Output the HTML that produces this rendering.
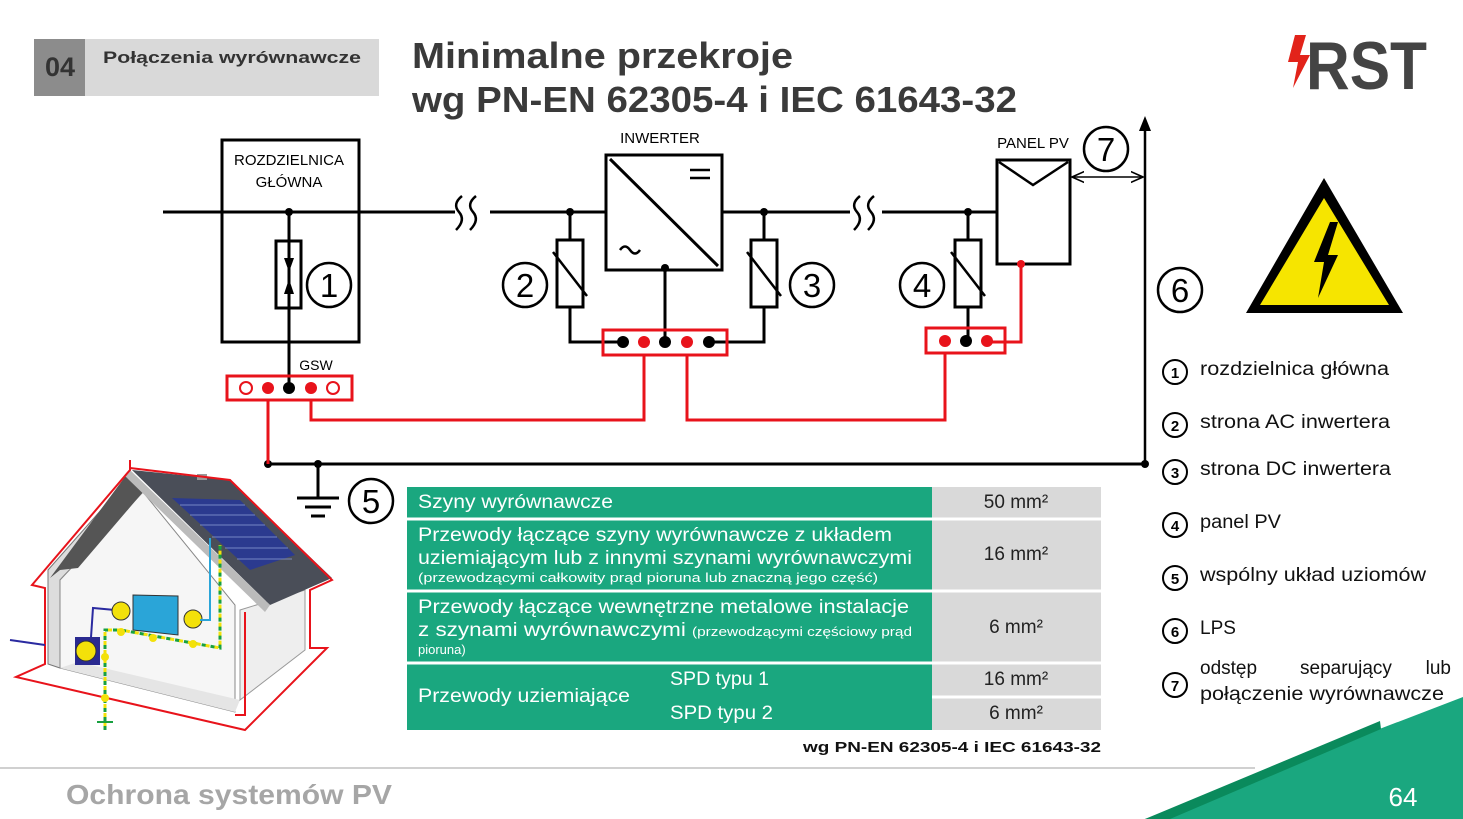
<!DOCTYPE html>
<html><head><meta charset="utf-8"><style>
html,body{margin:0;padding:0;background:#fff}
svg{display:block}
text{font-family:"Liberation Sans",sans-serif}
</style></head><body>
<svg width="1463" height="819" viewBox="0 0 1463 819" xmlns="http://www.w3.org/2000/svg">
<defs>
<marker id="ao" viewBox="0 0 10 10" refX="9" refY="5" markerWidth="9" markerHeight="9" orient="auto-start-reverse"><path d="M0,1 L9,5 L0,9" fill="none" stroke="#000" stroke-width="1.2"/></marker>
</defs>
<rect x="34" y="39" width="345" height="57" fill="#d9d9d9"/>
<rect x="34" y="39" width="51" height="57" fill="#8c8c8c"/>
<text x="60" y="76" font-size="27" font-weight="bold" fill="#333" text-anchor="middle">04</text>
<text x="103" y="63" font-size="17" font-weight="bold" fill="#333" textLength="258" lengthAdjust="spacingAndGlyphs">Połączenia wyrównawcze</text>
<text x="412" y="68" font-size="36" font-weight="bold" fill="#3a3a3a" textLength="381" lengthAdjust="spacingAndGlyphs">Minimalne przekroje</text>
<text x="412" y="112" font-size="36" font-weight="bold" fill="#3a3a3a" textLength="605" lengthAdjust="spacingAndGlyphs">wg PN-EN 62305-4 i IEC 61643-32</text>
<polygon points="1295,35 1306,35 1300,55 1310,55 1293,88 1298,62 1288,62" fill="#e2231a"/>
<text x="1306" y="89" font-size="68" font-weight="bold" fill="#444" textLength="121" lengthAdjust="spacingAndGlyphs">RST</text>

<g stroke="#000" stroke-width="3" fill="none">
<line x1="163" y1="212" x2="455" y2="212"/>
<line x1="490" y1="212" x2="606" y2="212"/>
<line x1="722" y1="212" x2="850" y2="212"/>
<line x1="882" y1="212" x2="997" y2="212"/>
<path d="M462,196 q-10,8 -3,16 q7,8 -3,18 M476,196 q-10,8 -3,16 q7,8 -3,18" stroke-width="2.5"/>
<path d="M860,196 q-10,8 -3,16 q7,8 -3,18 M874,196 q-10,8 -3,16 q7,8 -3,18" stroke-width="2.5"/>
<rect x="222" y="140" width="137" height="202"/>
<rect x="606" y="155" width="116" height="115"/>
<line x1="610" y1="159" x2="718" y2="266"/>
<line x1="690" y1="170" x2="710" y2="170" stroke-width="2.5"/><line x1="690" y1="178" x2="710" y2="178" stroke-width="2.5"/>
<path d="M620,250 q5,-7 10,0 q5,7 10,0" stroke-width="2.5"/>
<rect x="997" y="160" width="73" height="104"/>
<polyline points="999,162 1033,185 1068,162" stroke-width="2.5"/>
<line x1="289" y1="212" x2="289" y2="388"/>
<rect x="276" y="241" width="25" height="67"/>
<polyline points="570,212 570,342 623,342"/>
<rect x="557" y="240" width="26" height="67" fill="#fff"/>
<line x1="553" y1="252" x2="587" y2="296" stroke-width="2.5"/>
<line x1="665" y1="268" x2="665" y2="342"/>
<polyline points="764,212 764,342 709,342"/>
<rect x="751" y="240" width="26" height="67" fill="#fff"/>
<line x1="747" y1="252" x2="781" y2="296" stroke-width="2.5"/>
<polyline points="968,212 968,340"/>
<rect x="955" y="240" width="26" height="67" fill="#fff"/>
<line x1="951" y1="252" x2="985" y2="296" stroke-width="2.5"/>
<line x1="268" y1="464" x2="1145" y2="464"/>
<line x1="318" y1="464" x2="318" y2="498"/>
<line x1="297" y1="498" x2="339" y2="498"/><line x1="305" y1="507" x2="331" y2="507"/><line x1="311" y1="516" x2="325" y2="516"/>
<line x1="1145" y1="464" x2="1145" y2="125" stroke-width="2.5"/>
<line x1="1072" y1="177" x2="1143" y2="177" stroke-width="1.5" marker-start="url(#ao)" marker-end="url(#ao)"/>
</g>
<polygon points="1145,116 1139,131 1151,131" fill="#000"/>
<polygon points="289,272 284,258 294,258" fill="#000"/>
<polygon points="289,279 284,294 294,294" fill="#000"/>
<circle cx="289" cy="212" r="4" fill="#000"/><circle cx="570" cy="212" r="4" fill="#000"/><circle cx="764" cy="212" r="4" fill="#000"/><circle cx="968" cy="212" r="4" fill="#000"/><circle cx="665" cy="268" r="4" fill="#000"/>
<circle cx="268" cy="464" r="4" fill="#000"/><circle cx="318" cy="464" r="4" fill="#000"/><circle cx="1145" cy="464" r="4" fill="#000"/>
<g stroke="#e8131b" stroke-width="3" fill="none">
<rect x="227" y="376" width="125" height="24"/>
<rect x="603" y="330" width="124" height="25"/>
<rect x="926" y="328" width="79" height="25"/>
<line x1="268" y1="400" x2="268" y2="464"/>
<polyline points="311,400 311,420 644,420 644,355"/>
<polyline points="687,355 687,420 945,420 945,353"/>
<polyline points="1021,264 1021,342 987,342"/>
<g stroke-width="2"><circle cx="246" cy="388" r="6"/><circle cx="333" cy="388" r="6"/></g>
</g>
<g fill="#e8131b"><circle cx="268" cy="388" r="6"/><circle cx="311" cy="388" r="6"/><circle cx="644" cy="342" r="6"/><circle cx="687" cy="342" r="6"/><circle cx="945" cy="341" r="6"/><circle cx="987" cy="341" r="6"/><circle cx="1021" cy="264" r="4"/></g>
<g fill="#000"><circle cx="289" cy="388" r="6"/><circle cx="623" cy="342" r="6"/><circle cx="665" cy="342" r="6"/><circle cx="709" cy="342" r="6"/><circle cx="966" cy="341" r="6"/></g>
<g font-size="15" fill="#000" text-anchor="middle">
<text x="289" y="165">ROZDZIELNICA</text><text x="289" y="187">GŁÓWNA</text>
<text x="660" y="143">INWERTER</text><text x="1033" y="148">PANEL PV</text>
<text x="316" y="370" font-size="14">GSW</text>
</g>
<g stroke="#000" stroke-width="2.5" fill="#fff">
<circle cx="329" cy="285" r="22"/><circle cx="525" cy="285" r="22"/><circle cx="812" cy="285" r="22"/><circle cx="922" cy="285" r="22"/><circle cx="371" cy="501" r="22"/><circle cx="1106" cy="149" r="22"/><circle cx="1180" cy="290" r="22"/>
</g>
<g font-size="33" text-anchor="middle" fill="#000">
<text x="329" y="297">1</text><text x="525" y="297">2</text><text x="812" y="297">3</text><text x="922" y="297">4</text><text x="371" y="513">5</text><text x="1106" y="161">7</text><text x="1180" y="302">6</text>
</g>
<polygon points="1324,178 1403,313 1246,313" fill="#000"/>
<polygon points="1324,198 1389,305 1260,305" fill="#f6e500"/>
<polygon points="1330,222 1314,262 1324,262 1318,298 1338,255 1328,255 1338,222" fill="#000"/>
<g stroke="#000" stroke-width="2" fill="#fff">
<circle cx="1175" cy="372" r="12"/><circle cx="1175" cy="425" r="12"/><circle cx="1175" cy="472" r="12"/><circle cx="1175" cy="525" r="12"/><circle cx="1175" cy="578" r="12"/><circle cx="1175" cy="631" r="12"/><circle cx="1175" cy="685" r="12"/>
</g>
<g font-size="15" font-weight="bold" text-anchor="middle" fill="#000">
<text x="1175" y="378">1</text><text x="1175" y="431">2</text><text x="1175" y="478">3</text><text x="1175" y="531">4</text><text x="1175" y="584">5</text><text x="1175" y="637">6</text><text x="1175" y="691">7</text>
</g>
<g font-size="19" fill="#111">
<text x="1200" y="375" textLength="189" lengthAdjust="spacingAndGlyphs">rozdzielnica główna</text>
<text x="1200" y="428" textLength="190" lengthAdjust="spacingAndGlyphs">strona AC inwertera</text>
<text x="1200" y="475" textLength="191" lengthAdjust="spacingAndGlyphs">strona DC inwertera</text>
<text x="1200" y="528" textLength="81" lengthAdjust="spacingAndGlyphs">panel PV</text>
<text x="1200" y="581" textLength="226" lengthAdjust="spacingAndGlyphs">wspólny układ uziomów</text>
<text x="1200" y="634">LPS</text>
<text x="1200" y="674">odstęp</text>
<text x="1346" y="674" text-anchor="middle">separujący</text>
<text x="1451" y="674" text-anchor="end">lub</text>
<text x="1200" y="700" textLength="244" lengthAdjust="spacingAndGlyphs">połączenie wyrównawcze</text>
</g>
<rect x="407" y="487" width="525" height="243" fill="#1aa77f"/>
<rect x="932" y="487" width="169" height="243" fill="#d9d9d9"/>
<g stroke="#fff" stroke-width="3">
<line x1="932" y1="519" x2="1101" y2="519"/><line x1="407" y1="591" x2="1101" y2="591"/><line x1="407" y1="663" x2="1101" y2="663"/><line x1="932" y1="697" x2="1101" y2="697"/><line x1="407" y1="519" x2="932" y2="519"/>
</g>
<g fill="#fff" font-size="19">
<text x="418" y="508" textLength="195" lengthAdjust="spacingAndGlyphs">Szyny wyrównawcze</text>
<text x="418" y="541" textLength="474" lengthAdjust="spacingAndGlyphs">Przewody łączące szyny wyrównawcze z układem</text>
<text x="418" y="564" textLength="494" lengthAdjust="spacingAndGlyphs">uziemiającym lub z innymi szynami wyrównawczymi</text>
<text x="418" y="582" font-size="13" textLength="460" lengthAdjust="spacingAndGlyphs">(przewodzącymi całkowity prąd pioruna lub znaczną jego część)</text>
<text x="418" y="613" textLength="491" lengthAdjust="spacingAndGlyphs">Przewody łączące wewnętrzne metalowe instalacje</text>
<text x="418" y="636" textLength="494" lengthAdjust="spacingAndGlyphs">z szynami wyrównawczymi <tspan font-size="13">(przewodzącymi częściowy prąd</tspan></text>
<text x="418" y="654" font-size="13">pioruna)</text>
<text x="418" y="702" textLength="212" lengthAdjust="spacingAndGlyphs">Przewody uziemiające</text>
<text x="670" y="685" textLength="99" lengthAdjust="spacingAndGlyphs">SPD typu 1</text>
<text x="670" y="719" textLength="103" lengthAdjust="spacingAndGlyphs">SPD typu 2</text>
</g>
<g fill="#222" font-size="19" text-anchor="middle">
<text x="1016" y="508">50 mm²</text><text x="1016" y="560">16 mm²</text><text x="1016" y="633">6 mm²</text><text x="1016" y="685">16 mm²</text><text x="1016" y="719">6 mm²</text>
</g>
<text x="803" y="752" font-size="15" font-weight="bold" fill="#111" textLength="298" lengthAdjust="spacingAndGlyphs">wg PN-EN 62305-4 i IEC 61643-32</text>
<g>
<polygon points="48,570 132,475 143,492 60,580 60,668 48,664" fill="#ddd" stroke="#777"/>
<polygon points="60,580 143,492 235,605 235,712 60,668" fill="#f6f6f6" stroke="#888"/>
<polygon points="50,578 130,470 143,492 78,568 60,570" fill="#555"/>
<polygon points="60,668 235,712 240,700 78,662" fill="#e5e5e5"/>
<polygon points="240,610 305,590 305,650 240,700" fill="#eee" stroke="#999"/>
<polygon points="132,470 230,480 332,578 270,605" fill="#4a4e58"/>
<polygon points="172,498 240,500 295,555 250,570" fill="#2b3a8f"/>
<g stroke="#8fa0d8" stroke-width="0.7"><line x1="180" y1="505" x2="245" y2="505"/><line x1="190" y1="515" x2="255" y2="515"/><line x1="200" y1="525" x2="265" y2="525"/><line x1="212" y1="537" x2="277" y2="537"/><line x1="225" y1="548" x2="288" y2="548"/><line x1="237" y1="559" x2="292" y2="559"/></g>
<polygon points="130,470 270,605 265,612 125,476" fill="#bbb"/>
<rect x="197" y="474" width="10" height="6" fill="#999"/>
<g stroke="#e8131b" stroke-width="2" fill="none">
<polyline points="130,460 130,470 32,585 45,588 45,664 16,677 245,730 327,648 310,648 310,590 332,580 230,480 130,468"/>
<polyline points="245,612 245,715 235,715"/>
</g>
<polyline points="10,640 45,645" stroke="#2a2aa0" stroke-width="2" fill="none"/>
<polyline points="75,652 90,652 93,608 115,610" stroke="#2a2aa0" stroke-width="2" fill="none"/>
<rect x="75" y="637" width="25" height="28" fill="#2a2a90"/>
<circle cx="86" cy="651" r="10" fill="#f3e10a" stroke="#333"/>
<polygon points="133,595 178,596 178,635 133,630" fill="#2aa5d8" stroke="#333"/>
<circle cx="121" cy="611" r="9" fill="#f3e10a" stroke="#333"/>
<circle cx="193" cy="619" r="9" fill="#f3e10a" stroke="#333"/>
<polyline points="200,620 210,620 210,538" stroke="#2aa5d8" stroke-width="2" fill="none"/>
<polyline points="105,730 105,630 121,630 220,648 220,545" stroke="#18a040" stroke-width="3" stroke-dasharray="5 4" fill="none"/>
<polyline points="105,730 105,630 121,630 220,648 220,545" stroke="#f3e10a" stroke-width="3" stroke-dasharray="4 5" stroke-dashoffset="5" fill="none"/>
<g fill="#f3e10a"><circle cx="121" cy="632" r="4"/><circle cx="153" cy="638" r="4"/><circle cx="193" cy="644" r="4"/><circle cx="105" cy="657" r="4"/><circle cx="105" cy="698" r="4"/></g>
<line x1="97" y1="722" x2="113" y2="722" stroke="#18a040" stroke-width="2"/>
</g>
<line x1="0" y1="768" x2="1255" y2="768" stroke="#d0d0d0" stroke-width="2"/>
<text x="66" y="804" font-size="28" font-weight="bold" fill="#a6a6a6" textLength="326" lengthAdjust="spacingAndGlyphs">Ochrona systemów PV</text>
<polygon points="1145,819 1463,697 1463,819" fill="#1aa77f"/>
<polygon points="1145,819 1380,721 1381,729 1170,819" fill="#0a8a5c"/>
<text x="1403" y="806" font-size="26" fill="#fff" text-anchor="middle">64</text>
</svg>
</body></html>
